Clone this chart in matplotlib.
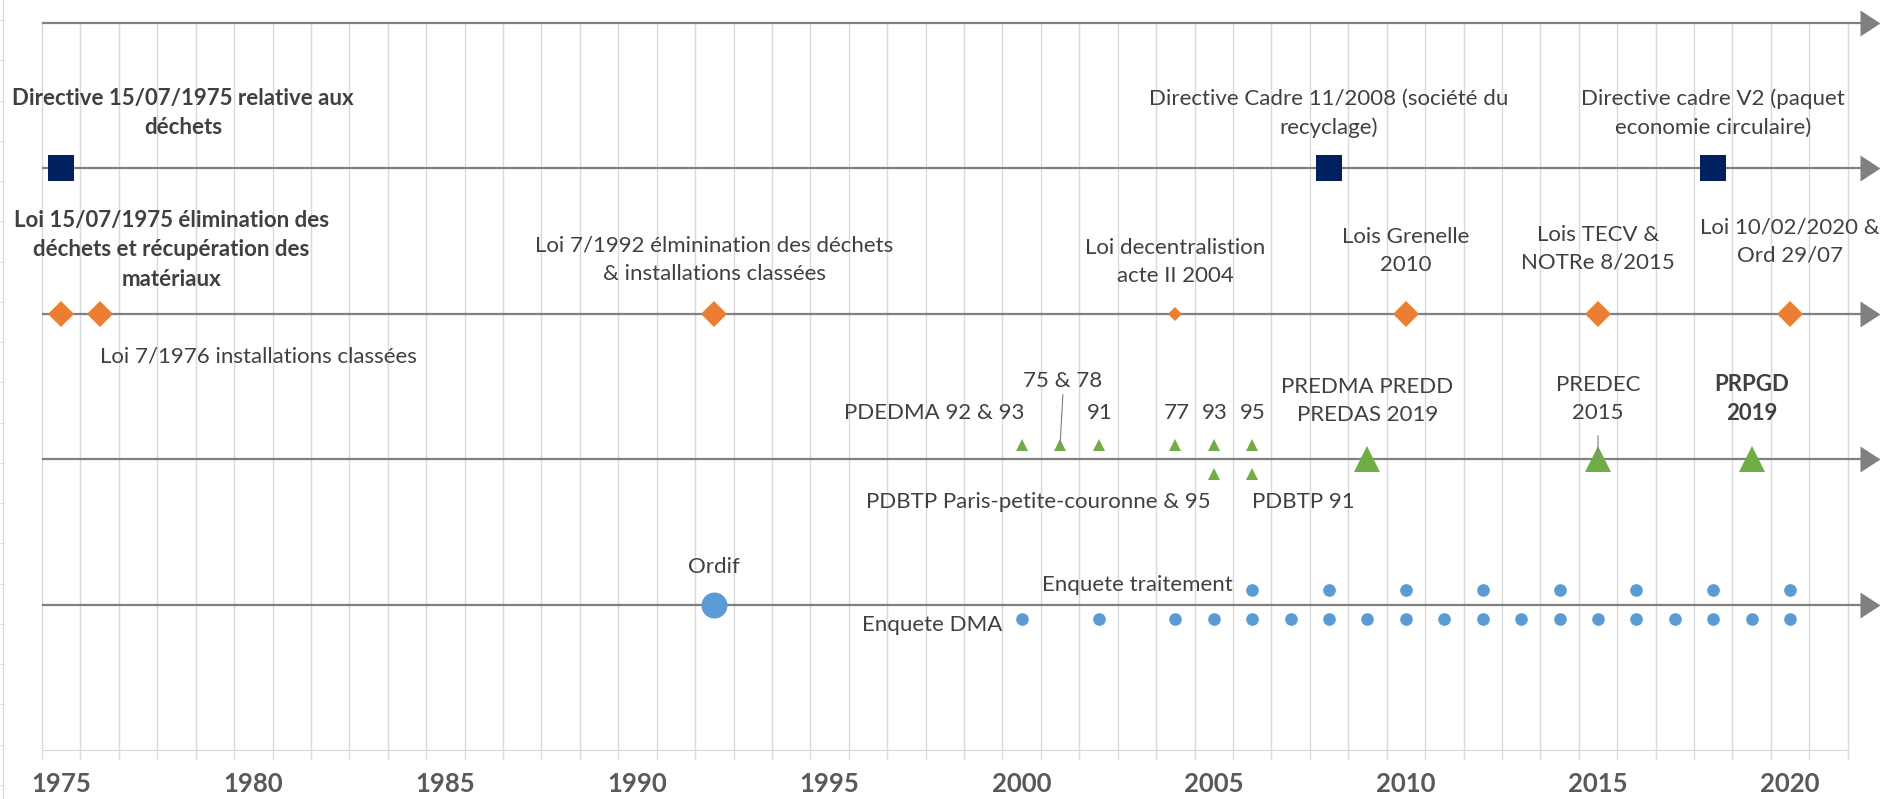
import matplotlib
matplotlib.use("Agg")
import matplotlib.pyplot as plt

plt.rcParams['font.family'] = ['Lato', 'DejaVu Sans']

# ---- data ----
# directives europeennes
directive_years = [1975, 2008, 2018]
directive_labels = ["Directive 15/07/1975 relative aux\ndéchets",
                    "Directive Cadre 11/2008 (société du\nrecyclage)",
                    "Directive cadre V2 (paquet\neconomie circulaire)"]

# lois francaises (2004 drawn with a small marker)
loi_years = [1975, 1976, 1992, 2010, 2015, 2020]
loi_labels = ["Loi 15/07/1975 élimination des\ndéchets et récupération des\nmatériaux",
              "Loi 7/1976 installations classées",
              "Loi 7/1992 élminination des déchets\n& installations classées",
              "Lois Grenelle\n2010",
              "Lois TECV &\nNOTRe 8/2015",
              "Loi 10/02/2020 &\nOrd 29/07"]
loi_small_years = [2004]
loi_small_labels = ["Loi decentralistion\nacte II 2004"]

# plans
plan_top_years = [2000, 2001, 2002, 2004, 2005, 2006]
plan_top_labels = ["PDEDMA 92 & 93", "75 & 78", "91", "77", "93", "95"]
plan_bottom_years = [2005, 2006]
plan_bottom_labels = ["PDBTP Paris-petite-couronne & 95", "PDBTP 91"]
plan_big_years = [2009, 2015, 2019]
plan_big_labels = ["PREDMA PREDD\nPREDAS 2019", "PREDEC\n2015", "PRPGD\n2019"]

# observatoire / enquetes
ordif_years = [1992]
traitement_years = [2006, 2008, 2010, 2012, 2014, 2016, 2018, 2020]
dma_years = [2000, 2002, 2004, 2005, 2006, 2007, 2008, 2009, 2010, 2011,
             2012, 2013, 2014, 2015, 2016, 2017, 2018, 2019, 2020]

# row of each theme, and shift of the secondary series
row_top, row_directive, row_loi, row_plan, row_obs = 5, 4, 3, 2, 1
shift = 0.1

# ---- style ----
line_grey = '#808080'
grid_grey = '#D9D9D9'
txt = '#404040'
navy = '#002060'
orange = '#ED7D31'
green = '#70AD47'
blue = '#5B9BD5'
fs = 16
ls = 1.5

fig = plt.figure(figsize=(18.8, 7.99), dpi=100)
ax = fig.add_axes([0, 0, 1, 1])
ax.set_xlim(1973.407, 2022.34)
ax.set_ylim(-0.337, 5.156)
ax.patch.set_alpha(0)

# year grid
grid_x = [y + 0.5 for y in range(1974, 2022)]
ax.vlines(grid_x, 0, row_top, color=grid_grey, lw=1, zorder=0)

# timeline rows with arrow heads
arrow = [(0, 0), (-20, 13), (-20, -13), (0, 0)]
for r in [row_top, row_directive, row_loi, row_plan, row_obs]:
    ax.plot([1974.5, 2022.0], [r, r], color=line_grey, lw=1.6, zorder=1,
            solid_capstyle='butt')
    ax.plot([2022.34], [r], marker=arrow, ms=28.8, color=line_grey,
            mew=0, zorder=1, clip_on=False)


def label(text, x, y, dx, dy, ha='center', bold=False, leader=None):
    kw = {}
    if leader is not None:
        kw['arrowprops'] = dict(arrowstyle='-', color=line_grey, lw=0.8,
                                shrinkA=leader, shrinkB=0, relpos=(0.5, 0))
    ax.annotate(text, xy=(x, y), xytext=(dx, dy), textcoords='offset pixels',
                ha=ha, va='center', multialignment='center', fontsize=fs,
                fontweight='bold' if bold else 'normal', color=txt,
                linespacing=ls, zorder=4, **kw)


# directives
ax.plot(directive_years, [row_directive] * len(directive_years), 's',
        ms=19.4, color=navy, mew=0, zorder=3)
directive_pos = [(122, 55, 'center', True), (0, 55, 'center', False),
                 (0, 55, 'center', False)]
for yr, t, (dx, dy, ha, b) in zip(directive_years, directive_labels, directive_pos):
    label(t, yr, row_directive, dx, dy, ha, b)

# lois
ax.plot(loi_years, [row_loi] * len(loi_years), 'D', ms=13.2, color=orange,
        mew=0, zorder=3)
ax.plot(loi_small_years, [row_loi] * len(loi_small_years), 'D', ms=7.1,
        color=orange, mew=0, zorder=3)
loi_pos = [(110, 64, 'center', True), (0, -43, 'left', False),
           (0, 54, 'center', False), (0, 63, 'center', False),
           (0, 65, 'center', False), (0, 72, 'center', False)]
for yr, t, (dx, dy, ha, b) in zip(loi_years, loi_labels, loi_pos):
    label(t, yr, row_loi, dx, dy, ha, b)
for yr, t in zip(loi_small_years, loi_small_labels):
    label(t, yr, row_loi, 0, 52)

# plans
ax.plot(plan_top_years, [row_plan + shift] * len(plan_top_years), '^',
        ms=8.8, color=green, mew=0, zorder=3)
ax.plot(plan_bottom_years, [row_plan - shift] * len(plan_bottom_years), '^',
        ms=8.8, color=green, mew=0, zorder=3)
ax.plot(plan_big_years, [row_plan] * len(plan_big_years), '^',
        ms=19.4, color=green, mew=0, zorder=3)
plan_top_pos = [(3, 32, 'right', None), (3, 64, 'center', 1),
                (1, 32, 'center', None), (1, 32, 'center', None),
                (1, 32, 'center', None), (1, 32, 'center', None)]
for yr, t, (dx, dy, ha, ld) in zip(plan_top_years, plan_top_labels, plan_top_pos):
    label(t, yr, row_plan + shift, dx, dy, ha, leader=ld)
plan_bottom_pos = [(-3, -28, 'right'), (0, -28, 'left')]
for yr, t, (dx, dy, ha) in zip(plan_bottom_years, plan_bottom_labels, plan_bottom_pos):
    label(t, yr, row_plan - shift, dx, dy, ha)
plan_big_pos = [(0, 58, False, None), (0, 60, False, 7), (0, 60, True, None)]
for yr, t, (dx, dy, b, ld) in zip(plan_big_years, plan_big_labels, plan_big_pos):
    label(t, yr, row_plan, dx, dy, bold=b, leader=ld)

# observatoire / enquetes
ax.plot(ordif_years, [row_obs] * len(ordif_years), 'o', ms=18.7, color=blue,
        mew=0, zorder=3)
ax.plot(traitement_years, [row_obs + shift] * len(traitement_years), 'o',
        ms=9.1, color=blue, mew=0, zorder=3)
ax.plot(dma_years, [row_obs - shift] * len(dma_years), 'o', ms=9.1,
        color=blue, mew=0, zorder=3)
label("Ordif", ordif_years[0], row_obs, 0, 37.5)
label("Enquete traitement", traitement_years[0], row_obs + shift, -19, 5, 'right')
label("Enquete DMA", dma_years[0], row_obs - shift, -19.5, -6, 'right')

# x axis
for s in ['top', 'right', 'left']:
    ax.spines[s].set_visible(False)
ax.spines['bottom'].set_position(('data', 0))
ax.spines['bottom'].set_color(grid_grey)
ax.spines['bottom'].set_bounds(1974.5, 2021.5)
ax.set_yticks([])
ax.set_xticks(range(1975, 2021, 5))
ax.set_xticks(grid_x, minor=True)
ax.tick_params(axis='x', which='major', length=0, pad=15.5, labelsize=18.5,
               labelcolor='#595959')
ax.tick_params(axis='x', which='minor', length=6.5, width=1, color=grid_grey,
               direction='out')
for t in ax.get_xticklabels():
    t.set_fontweight('bold')

# left vertical axis with its small ticks
ax2 = fig.add_axes([2.7 / 1880, 0, 0.0005, 1])
ax2.set_ylim(-0.348, 19.5)
ax2.patch.set_alpha(0)
for s in ['top', 'right', 'bottom']:
    ax2.spines[s].set_visible(False)
ax2.spines['left'].set_color(grid_grey)
ax2.set_xticks([])
ax2.set_yticks(range(20))
ax2.set_yticklabels([])
ax2.tick_params(axis='y', length=2.2, color=grid_grey, direction='out')

fig.savefig('out.png', dpi=100)
